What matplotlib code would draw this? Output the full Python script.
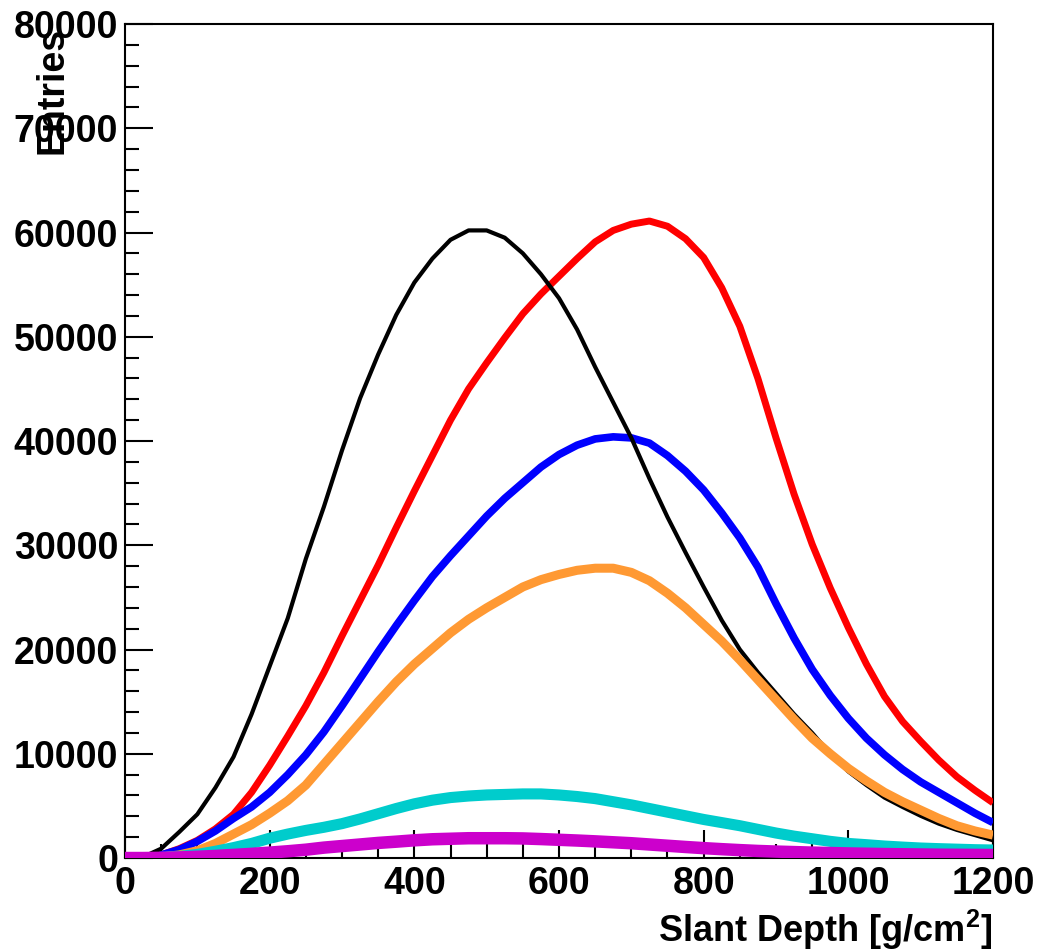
import numpy as np
import matplotlib.pyplot as plt

plt.rcParams['font.family'] = ['Liberation Sans', 'DejaVu Sans']
plt.rcParams['font.weight'] = 'bold'
plt.rcParams['mathtext.fontset'] = 'custom'
plt.rcParams['mathtext.rm'] = 'Liberation Sans:bold'
plt.rcParams['mathtext.bf'] = 'Liberation Sans:bold'

# slant depth grid (g/cm^2), step 25
depth = np.arange(0, 1201, 25)

# entries
black = [0, 100, 900, 2500, 4200, 6750, 9700, 13800, 18400, 23000, 28700, 33700,
         39100, 44100, 48300, 52100, 55200, 57500, 59300, 60200, 60200, 59500,
         58000, 56000, 53700, 50700, 47100, 43700, 40300, 36400, 32700, 29300,
         26000, 22800, 20000, 17800, 15800, 13800, 12000, 10000, 8300, 7000,
         5800, 4900, 4050, 3300, 2700, 2200, 1700]
red = [0, 50, 300, 900, 1700, 2800, 4200, 6300, 8900, 11700, 14600, 17800,
       21300, 24700, 28100, 31700, 35200, 38600, 42000, 45000, 47500, 49900,
       52200, 54100, 55800, 57500, 59100, 60200, 60800, 61100, 60600, 59400,
       57600, 54700, 51000, 46000, 40300, 34900, 30100, 25900, 22100, 18600,
       15500, 13100, 11200, 9400, 7800, 6500, 5300]
blue = [0, 50, 300, 800, 1600, 2600, 3800, 4900, 6300, 8000, 9900, 12100,
        14600, 17200, 19800, 22300, 24700, 27000, 29000, 30900, 32800, 34500,
        36000, 37500, 38700, 39600, 40200, 40400, 40300, 39800, 38600, 37100,
        35300, 33100, 30700, 27900, 24400, 21100, 18100, 15600, 13400, 11500,
        9900, 8500, 7300, 6300, 5300, 4300, 3400]
orange = [0, 0, 100, 300, 700, 1400, 2300, 3200, 4300, 5500, 7000, 9000,
          11000, 13000, 15000, 16900, 18600, 20100, 21600, 22900, 24000, 25000,
          26000, 26700, 27200, 27600, 27800, 27800, 27400, 26600, 25400, 24000,
          22400, 20800, 19000, 17100, 15200, 13300, 11500, 10000, 8600, 7400,
          6300, 5400, 4600, 3800, 3100, 2600, 2200]
cyan = [0, 0, 50, 150, 350, 650, 1000, 1400, 1900, 2300, 2650, 2950,
        3300, 3750, 4250, 4750, 5200, 5550, 5800, 5950, 6050, 6100,
        6150, 6150, 6050, 5900, 5700, 5400, 5100, 4750, 4400, 4050,
        3700, 3400, 3100, 2750, 2400, 2100, 1850, 1600, 1400, 1280,
        1150, 1050, 960, 900, 850, 800, 770]
magenta = [0, 0, 20, 60, 120, 200, 300, 400, 520, 650, 800, 1000,
           1150, 1300, 1450, 1570, 1700, 1800, 1850, 1900, 1900, 1900,
           1880, 1820, 1750, 1680, 1600, 1510, 1420, 1300, 1180, 1060,
           950, 850, 760, 680, 620, 570, 520, 480, 440, 410,
           380, 360, 340, 320, 310, 300, 290]

fig = plt.figure(figsize=(10.4, 9.52), dpi=100)
ax = fig.add_axes([0.1202, 0.0987, 0.8346, 0.8761])

style = dict(solid_joinstyle='round', solid_capstyle='butt')
ax.plot(depth, red, color='#ff0000', lw=5, zorder=3, **style)
ax.plot(depth, blue, color='#0000ff', lw=5.5, zorder=3, **style)
ax.plot(depth, black, color='black', lw=3, zorder=4, **style)
ax.plot(depth, orange, color='#ff9933', lw=6.5, zorder=5, **style)
ax.plot(depth, cyan, color='#00cccc', lw=8, zorder=6, **style)
ax.plot(depth, magenta, color='#cc00cc', lw=9, zorder=7, **style)

ax.set_xlim(0, 1200)
ax.set_ylim(0, 80000)
ax.set_xticks(np.arange(0, 1201, 200))
ax.set_xticks(np.arange(0, 1201, 50), minor=True)
ax.set_yticks(np.arange(0, 80001, 10000))
ax.set_yticks(np.arange(0, 80001, 2000), minor=True)
ax.tick_params(which='both', direction='in', top=False, right=False,
               width=1.5, labelsize=27)
ax.tick_params(which='major', length=20)
ax.tick_params(which='minor', length=10)
ax.tick_params(axis='x', pad=6)
ax.tick_params(axis='y', pad=5)
for s in ax.spines.values():
    s.set_linewidth(1.5)

# ROOT-style axis titles: x at the right end, y at the top (overlapping labels)
ax.set_xlabel(r'Slant Depth [g/cm$^{\mathbf{2}}$]', fontsize=26,
              fontweight='bold', ha='right', va='center')
ax.xaxis.set_label_coords(1.0, -0.086)
ax.set_ylabel('Entries', fontsize=27, fontweight='bold', ha='right', va='center')
ax.yaxis.set_label_coords(-0.084, 0.997)

fig.savefig('out.png', dpi=100)
